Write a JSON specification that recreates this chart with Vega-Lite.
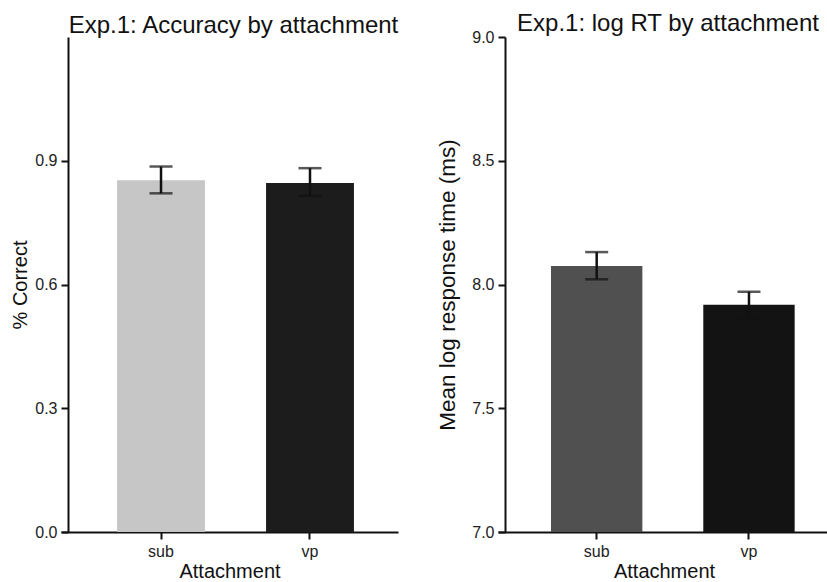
{
  "$schema": "https://vega.github.io/schema/vega-lite/v6.json",
  "padding": {"left": 10, "top": 12, "right": 0, "bottom": 0},
  "config": {
    "font": "Liberation Sans",
    "view": {"stroke": null},
    "title": {"fontSize": 24, "fontWeight": "normal", "color": "#111111", "anchor": "middle", "frame": "group", "dx": 4},
    "axis": {"domainColor": "#111111", "domainWidth": 2, "tickColor": "#111111", "tickWidth": 2, "tickSize": 7, "labelFontSize": 16, "labelColor": "#222222", "titleFontSize": 20, "titleFontWeight": "normal", "titleColor": "#111111", "grid": false, "labelPadding": 4}
  },
  "datasets": {
    "acc": [
      {"attachment": "sub", "mean": 0.853, "lo": 0.821, "hi": 0.886},
      {"attachment": "vp", "mean": 0.846, "lo": 0.815, "hi": 0.882}
    ],
    "rt": [
      {"attachment": "sub", "mean": 8.075, "lo": 8.021, "hi": 8.131},
      {"attachment": "vp", "mean": 7.918, "lo": 7.865, "hi": 7.971}
    ]
  },
  "spacing": 37,
  "resolve": {"scale": {"color": "independent"}},
  "hconcat": [
    {
      "width": 337,
      "height": 495,
      "title": {"text": "Exp.1: Accuracy by attachment", "offset": -1},
      "data": {"name": "acc"},
      "encoding": {
        "x": {"field": "attachment", "type": "nominal", "scale": {"paddingInner": 0.41, "paddingOuter": 0.336, "align": 0.56}, "axis": {"labelAngle": 0, "title": "Attachment", "titlePadding": 2}}
      },
      "layer": [
        {
          "mark": "bar",
          "encoding": {
            "y": {"field": "mean", "type": "quantitative", "title": "% Correct", "scale": {"domain": [0, 1.2], "nice": false, "zero": true}, "axis": {"values": [0, 0.3, 0.6, 0.9], "format": ".1f", "offset": -7, "titlePadding": 4}},
            "color": {"field": "attachment", "type": "nominal", "scale": {"domain": ["sub", "vp"], "range": ["#c6c6c6", "#1c1c1c"]}, "legend": null}
          }
        },
        {
          "mark": {"type": "rule", "color": "#111111", "strokeWidth": 2.5},
          "encoding": {"y": {"field": "lo", "type": "quantitative", "title": "% Correct"}, "y2": {"field": "hi"}}
        },
        {
          "mark": {"type": "tick", "color": "#111111", "thickness": 2.5, "size": 23},
          "encoding": {"y": {"field": "lo", "type": "quantitative", "title": "% Correct"}}
        },
        {
          "mark": {"type": "tick", "color": "#111111", "thickness": 2.5, "size": 23},
          "encoding": {"y": {"field": "hi", "type": "quantitative", "title": "% Correct"}}
        }
      ]
    },
    {
      "width": 332,
      "height": 495,
      "title": {"text": "Exp.1: log RT by attachment", "offset": -7},
      "data": {"name": "rt"},
      "encoding": {
        "x": {"field": "attachment", "type": "nominal", "scale": {"paddingInner": 0.4, "paddingOuter": 0.29, "align": 0.6}, "axis": {"labelAngle": 0, "title": "Attachment", "titlePadding": 2}}
      },
      "layer": [
        {
          "mark": "bar",
          "encoding": {
            "y": {"field": "mean", "type": "quantitative", "title": "Mean log response time (ms)", "scale": {"domain": [7, 9], "nice": false, "zero": false}, "axis": {"values": [7, 7.5, 8, 8.5, 9], "format": ".1f", "offset": -7, "titlePadding": 12, "titleFontSize": 22.5}},
            "y2": {"datum": 7},
            "color": {"field": "attachment", "type": "nominal", "scale": {"domain": ["sub", "vp"], "range": ["#505050", "#131313"]}, "legend": null}
          }
        },
        {
          "mark": {"type": "rule", "color": "#111111", "strokeWidth": 2.5},
          "encoding": {"y": {"field": "lo", "type": "quantitative", "title": "Mean log response time (ms)"}, "y2": {"field": "hi"}}
        },
        {
          "mark": {"type": "tick", "color": "#111111", "thickness": 2.5, "size": 23},
          "encoding": {"y": {"field": "lo", "type": "quantitative", "title": "Mean log response time (ms)"}}
        },
        {
          "mark": {"type": "tick", "color": "#111111", "thickness": 2.5, "size": 23},
          "encoding": {"y": {"field": "hi", "type": "quantitative", "title": "Mean log response time (ms)"}}
        }
      ]
    }
  ]
}
